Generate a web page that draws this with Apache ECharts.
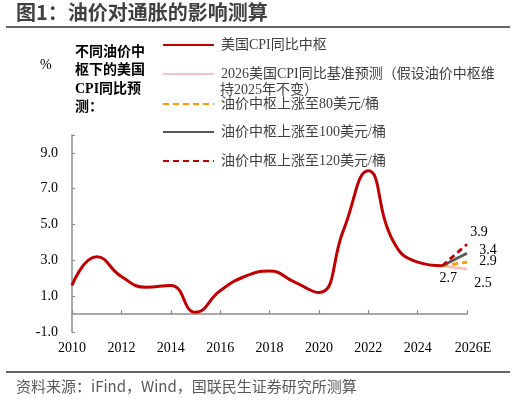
<!DOCTYPE html>
<html>
   <head>
       <meta charset="utf-8">
       <style>
           html, body { margin: 0; padding: 0; background: #fff; }
       </style>
   </head>
   <body>
       <div id="container" style="height: 400px;width: 516px;"></div>
   </body>
</html>
<script type="text/javascript" src="https://cdn.jsdelivr.net/npm/echarts@6/dist/echarts.min.js"></script>
<script type="text/javascript">
    // 年份与CPI同比（%）
    const years = [2010, 2011, 2012, 2013, 2014, 2015, 2016, 2017, 2018, 2019, 2020, 2021, 2022, 2023, 2024, 2025];
    const cpiValues = [1.6, 3.2, 2.1, 1.5, 1.6, 0.1, 1.3, 2.1, 2.4, 1.8, 1.2, 4.7, 8.0, 4.1, 2.9, 2.7];
    // 2025 -> 2026E 情景
    const forecastYears = [2025, 2026];
    const baseValues = [2.7, 2.5];
    const oil80Values = [2.7, 2.9];
    const oil100Values = [2.7, 3.4];
    const oil120Values = [2.7, 3.9];
    const seriesNames = [
        '美国CPI同比中枢',
        '2026美国CPI同比基准预测（假设油价中枢维持2025年不变）',
        '油价中枢上涨至80美元/桶',
        '油价中枢上涨至100美元/桶',
        '油价中枢上涨至120美元/桶'
    ];
    const yTicks = [-1, 1, 3, 5, 7, 9];

    const serif = "'Liberation Serif', 'Noto Sans CJK SC', serif";
    const axisGray = '#8c8c8c';

    const dom = document.getElementById("container");
    const myChart = echarts.init(dom);

    function pairs(xs, ys) {
        return xs.map(function (x, i) { return [x, ys[i]]; });
    }
    function valueLabel(offset) {
        return {
            show: true,
            position: 'inside',
            offset: offset,
            formatter: function (p) { return p.value[1].toFixed(1); }
        };
    }
    // 终点数据标签
    function endLabel(xs, ys, offset) {
        const d = pairs(xs, ys);
        d[d.length - 1] = { value: d[d.length - 1], label: valueLabel(offset) };
        return d;
    }

    const baseData = endLabel(forecastYears, baseValues, [16, 14]);
    baseData[0] = { value: baseData[0], label: valueLabel([6, 13]) };

    const legendTops = [38, 67, 97, 125, 154];
    const legends = seriesNames.map(function (name, i) {
        return {
            left: 162,
            top: legendTops[i],
            padding: 0,
            orient: 'vertical',
            itemWidth: 51,
            itemHeight: 14,
            itemGap: 0,
            data: [name],
            selectedMode: false,
            itemStyle: { opacity: 0 },
            formatter: function (n) {
                return i === 1 ? '2026美国CPI同比基准预测（假设油价中枢维' : n;
            },
            textStyle: { fontFamily: serif, fontSize: 14, color: '#404040', padding: [0, 0, 0, 2] }
        };
    });

    const labelStyle = { fontFamily: serif, fontSize: 14, color: '#000' };

    const option = {
        animation: false,
        graphic: [
            {
                type: 'text', left: 16, top: 2,
                style: { text: '图1：油价对通胀的影响测算', font: "bold 20px 'Noto Sans CJK SC'", fill: '#404040' }
            },
            {
                type: 'rect', shape: { x: 6, y: 26, width: 504, height: 2 },
                style: { fill: '#666' }
            },
            {
                type: 'rect', shape: { x: 6, y: 371, width: 504, height: 2 },
                style: { fill: '#666' }
            },
            {
                type: 'text', left: 16, top: 379,
                style: { text: '资料来源：iFind，Wind，国联民生证券研究所测算', font: "15px 'Noto Sans CJK SC'", fill: '#595959' }
            },
            {
                type: 'text', left: 40, top: 58,
                style: { text: '%', font: "14px 'Liberation Serif'", fill: '#000' }
            },
            {
                type: 'text', left: 75, top: 43,
                style: {
                    text: '不同油价中\n枢下的美国\nCPI同比预\n测：',
                    font: "bold 14px 'Liberation Serif', 'Noto Sans CJK SC'",
                    lineHeight: 18.5, fill: '#000'
                }
            },
            {
                type: 'text', left: 220, top: 83,
                style: { text: '持2025年不变）', font: "14px 'Liberation Serif', 'Noto Sans CJK SC'", fill: '#404040' }
            }
        ],
        legend: legends,
        grid: { left: 72, right: 49, top: 135, bottom: 68 },
        xAxis: {
            type: 'value',
            min: 2010,
            max: 2026,
            interval: 2,
            splitLine: { show: false },
            axisLine: { show: true, onZero: true, lineStyle: { color: axisGray, width: 1.5 } },
            axisTick: { show: true, inside: true, length: 4, lineStyle: { color: axisGray, width: 1.2 } },
            axisLabel: {
                margin: 9,
                fontFamily: serif,
                fontSize: 14,
                color: '#000',
                formatter: function (v) { return v === 2026 ? '{e|2026E}' : String(v); },
                rich: { e: { fontFamily: serif, fontSize: 14, color: '#000', padding: [0, 0, 0, 12] } }
            }
        },
        yAxis: {
            type: 'value',
            min: -1,
            max: 10,
            interval: 2,
            splitLine: { show: false },
            axisLine: { show: true, lineStyle: { color: axisGray, width: 1.5 } },
            axisTick: { show: true, inside: true, length: 3, lineStyle: { color: axisGray, width: 1.2 } },
            axisLabel: {
                margin: 14,
                fontFamily: serif,
                fontSize: 14,
                color: '#000',
                formatter: function (v) { return yTicks.indexOf(v) >= 0 ? v.toFixed(1) : ''; }
            }
        },
        series: [
            {
                name: seriesNames[0],
                type: 'line',
                smooth: 0.5,
                symbol: 'none',
                lineStyle: { color: '#C00000', width: 3 },
                itemStyle: { color: '#C00000' },
                data: pairs(years, cpiValues),
                z: 5
            },
            {
                name: seriesNames[1],
                type: 'line',
                symbol: 'circle',
                symbolSize: 0.1,
                lineStyle: { color: '#F2C4C4', width: 3 },
                itemStyle: { color: '#F2C4C4' },
                label: labelStyle,
                data: baseData,
                z: 3
            },
            {
                name: seriesNames[2],
                type: 'line',
                symbol: 'circle',
                symbolSize: 0.1,
                lineStyle: { color: '#FF9900', width: 2.8, type: [6, 4] },
                itemStyle: { color: '#FF9900' },
                label: labelStyle,
                data: endLabel(forecastYears, oil80Values, [21, -1]),
                z: 4
            },
            {
                name: seriesNames[3],
                type: 'line',
                symbol: 'circle',
                symbolSize: 0.1,
                lineStyle: { color: '#595959', width: 2.8 },
                itemStyle: { color: '#595959' },
                label: labelStyle,
                data: endLabel(forecastYears, oil100Values, [21, -3]),
                z: 4
            },
            {
                name: seriesNames[4],
                type: 'line',
                symbol: 'circle',
                symbolSize: 0.1,
                lineStyle: { color: '#C00000', width: 2.8, type: [6, 4] },
                itemStyle: { color: '#C00000' },
                label: labelStyle,
                data: endLabel(forecastYears, oil120Values, [12, -12]),
                z: 4
            }
        ]
    };
    myChart.setOption(option, true);
</script>
